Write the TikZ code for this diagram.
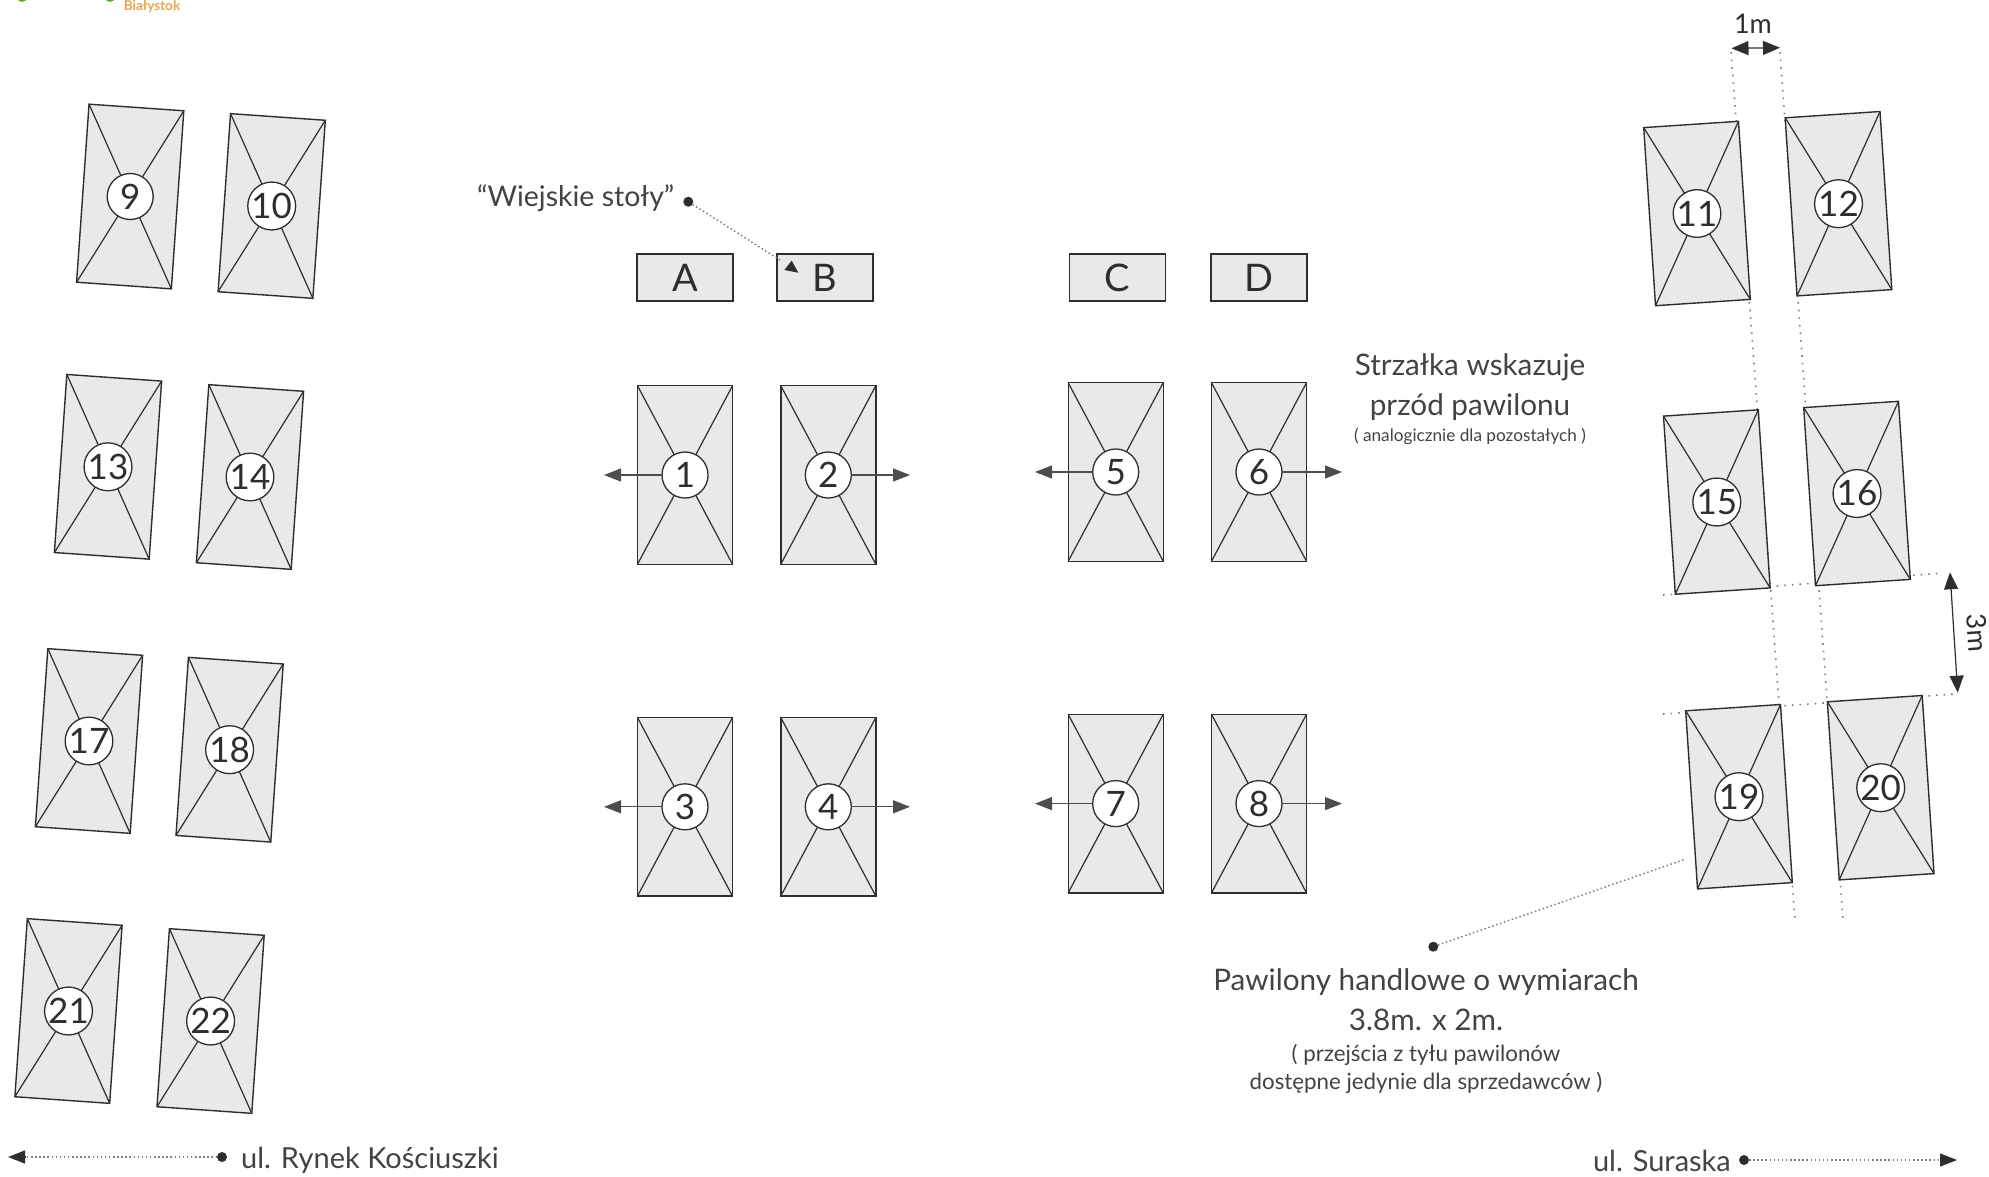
\documentclass[tikz,border=0pt]{standalone}
\usepackage{fontspec}
\setmainfont{Lato}
\usetikzlibrary{arrows.meta}
\definecolor{ink}{HTML}{2E2E2E}
\definecolor{pavfill}{HTML}{E7E9EA}
\definecolor{dotgray}{HTML}{808080}
\definecolor{logoorange}{HTML}{E8A24A}
\definecolor{logogreen}{HTML}{5FA82E}
\tikzset{
  pav/.style={draw=ink,fill=pavfill,line width=1.4pt,minimum width=95pt,minimum height=178.5pt,inner sep=0pt,outer sep=0pt},
  diag/.style={draw=ink,line width=1.2pt},
  num/.style={circle,draw=ink,fill=white,line width=1.3pt,minimum size=46pt,inner sep=0pt,outer sep=0pt,font=\fontsize{35}{35}\selectfont,text=ink},
  tablebox/.style={draw=ink,fill=pavfill,line width=1.4pt,minimum width=96pt,minimum height=47pt,inner sep=0pt,outer sep=0pt,font=\fontsize{38}{38}\selectfont,text=ink},
  front/.style={draw=ink!85,line width=1.2pt,-{Triangle[length=17pt,width=13pt]}},
  dim/.style={draw=ink,line width=1.2pt,{Triangle[length=17pt,width=14pt]}-{Triangle[length=17pt,width=14pt]}},
  guide/.style={draw=dotgray,line width=1.6pt,dash pattern=on 1.6pt off 6pt},
  leader/.style={draw=dotgray,line width=1.5pt,dash pattern=on 1.5pt off 2.6pt},
  blob/.style={circle,fill=ink,inner sep=0pt,minimum size=10pt,outer sep=0pt},
  big/.style={align=center,text=ink!90,font=\fontsize{30}{40}\selectfont,inner sep=0pt},
  small/.style={align=center,text=ink!90,font=\fontsize{22.3}{28}\selectfont,inner sep=0pt},
}
\newcommand{\pavilion}[5]{%
  \node[pav,rotate=#4] (p#1) at (#2,#3) {};
  \draw[diag] (p#1.north west) -- (p#1.south east);
  \draw[diag] (p#1.north east) -- (p#1.south west);
  \node[num] (n#1) at (p#1) {#5};
}
\begin{document}
\begin{tikzpicture}[x=1pt,y=-1pt]
\useasboundingbox (0,0) rectangle (1989,1176);
% logo fragment
\node[inner sep=0pt,text=logoorange,font=\bfseries\fontsize{13.5}{14}\selectfont] (logo) at (152,7) {Białystok};
\fill[logogreen] (22,-3) circle (5pt);
\fill[logogreen] (110,-3) circle (5pt);
% guides
\coordinate (ga) at (1731,52); \coordinate (gb) at (1795,920);
\coordinate (gc) at (1780,52); \coordinate (gd) at (1843,920);
\coordinate (ge) at (1663,595); \coordinate (gf) at (1943,573);
\coordinate (gg) at (1663,714); \coordinate (gh) at (1955,694);
\draw[guide] (ga) -- (gb);
\draw[guide] (gc) -- (gd);
\draw[guide] (ge) -- (gf);
\draw[guide] (gg) -- (gh);
% left group
\pavilion{9}{130.2}{196.5}{-4}{9}
\pavilion{10}{271.7}{206}{-4}{10}
\pavilion{13}{108}{466.8}{-4}{13}
\pavilion{14}{250}{477}{-4}{14}
\pavilion{17}{89}{741}{-4}{17}
\pavilion{18}{229.6}{749.7}{-4}{18}
\pavilion{21}{68.5}{1011}{-4}{21}
\pavilion{22}{210.6}{1021}{-4}{22}
% right group
\pavilion{11}{1697}{213.5}{3.8}{11}
\pavilion{12}{1838.5}{203.7}{3.8}{12}
\pavilion{15}{1716.8}{502}{3.8}{15}
\pavilion{16}{1857}{493.5}{3.8}{16}
\pavilion{19}{1739}{796.7}{3.8}{19}
\pavilion{20}{1880.7}{787.7}{3.8}{20}
% central group
\pavilion{1}{685}{475}{0}{1}
\pavilion{2}{828.3}{475}{0}{2}
\pavilion{3}{685}{806.8}{0}{3}
\pavilion{4}{828.3}{806.8}{0}{4}
\pavilion{5}{1115.7}{472}{0}{5}
\pavilion{6}{1259}{472}{0}{6}
\pavilion{7}{1115.7}{803.6}{0}{7}
\pavilion{8}{1259}{803.6}{0}{8}
% front arrows
\coordinate (a1) at (604,475); \coordinate (a2) at (910,475);
\coordinate (a3) at (604,806.8); \coordinate (a4) at (910,806.8);
\coordinate (a5) at (1035,472); \coordinate (a6) at (1342,472);
\coordinate (a7) at (1035,803.6); \coordinate (a8) at (1342,803.6);
\foreach \i in {1,...,8} {\draw[front] (n\i) -- (a\i);}
% tables
\node[tablebox] (ta) at (685,277.5) {A};
\node[tablebox] (tb) at (825,277.5) {B};
\node[tablebox] (tc) at (1117.5,277.5) {C};
\node[tablebox] (td) at (1259,277.5) {D};
% Wiejskie
\node[big,anchor=west,font=\fontsize{28.5}{30}\selectfont] (wl) at (477,198) {“Wiejskie stoły”};
\node[blob] (wdot) at (688.3,201.7) {};
\coordinate (wend) at (780,260);
\coordinate (wa) at (791.7,260.7); \coordinate (wb) at (784.3,270); \coordinate (wc) at (798.3,272.7);
\draw[leader] (wdot) -- (wend);
\fill[ink] (wa) -- (wb) -- (wc) -- cycle;
% dimension arrows
\coordinate (m1a) at (1731.5,48.3); \coordinate (m1b) at (1780,47.7);
\draw[dim] (m1a) -- (m1b);
\node[inner sep=0pt,text=ink,font=\fontsize{27}{27}\selectfont] (m1) at (1753,24) {1m};
\coordinate (m3a) at (1950,572.3); \coordinate (m3b) at (1957.7,692.7);
\draw[dim] (m3a) -- (m3b);
\node[inner sep=0pt,text=ink,rotate=-86,font=\fontsize{27}{27}\selectfont] (m3) at (1977,633) {3m};
% texts
\node[big,font=\fontsize{29.7}{40}\selectfont] (strz) at (1470,387) {Strzałka wskazuje\\przód pawilonu};
\node[small,font=\fontsize{17.2}{20}\selectfont] (strzs) at (1470,436) {( analogicznie dla pozostałych )};
\node[big,font=\fontsize{29.7}{40}\selectfont] (paw) at (1426,1000) {Pawilony handlowe o wymiarach\\3.8m. x 2m.};
\node[small] (paws) at (1426,1069) {( przejścia z tyłu pawilonów\\dostępne jedynie dla sprzedawców )};
\node[blob] (pdot) at (1433.3,946.7) {};
\coordinate (pend) at (1685,859.3);
\draw[leader] (pdot) -- (pend);
% bottom streets
\node[big,anchor=west,font=\fontsize{29}{30}\selectfont] (rynek) at (241,1160) {ul. Rynek Kościuszki};
\node[blob] (rdot) at (222,1157) {};
\coordinate (rend) at (8,1157); \coordinate (rbase) at (25,1157);
\draw[leader] (rdot) -- (rbase);
\draw[front,draw=ink] (rbase) -- (rend);
\node[big,anchor=east,font=\fontsize{29}{30}\selectfont] (sur) at (1731,1161) {ul. Suraska};
\node[blob] (sdot) at (1744,1160) {};
\coordinate (send) at (1957,1160); \coordinate (sbase) at (1940,1160);
\draw[leader] (sdot) -- (sbase);
\draw[front,draw=ink] (sbase) -- (send);
\end{tikzpicture}
\end{document}
